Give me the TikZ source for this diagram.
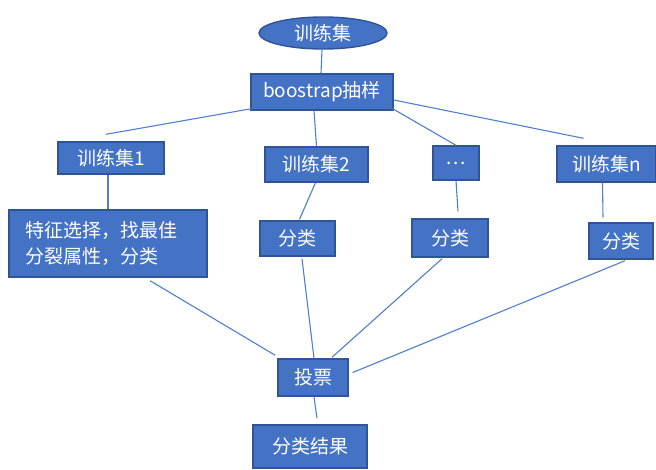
\documentclass[tikz,border=0pt]{standalone}
\usepackage{fontspec}
\setmainfont{Noto Sans CJK SC}
\usetikzlibrary{shapes.geometric}
\definecolor{boxfill}{HTML}{4472C4}
\definecolor{boxedge}{HTML}{2F5597}
\definecolor{linkc}{HTML}{4F7FCF}
\tikzset{
  box/.style={draw=boxedge, line width=1.4pt, fill=boxfill, text=white, inner sep=0pt,
    font=\fontsize{19}{26}\selectfont},
  oval/.style={box, ellipse},
  link/.style={draw=linkc, line width=1.1pt}
}
\begin{document}
\begin{tikzpicture}[x=1pt,y=-1pt]
\useasboundingbox (0,0) rectangle (656,469);
\node[oval, minimum width=128pt, minimum height=32pt] (e) at (323,33) {训练集};
\node[box, minimum width=142pt, minimum height=36pt] (boot) at (322,92) {boostrap抽样};
\node[box, minimum width=106pt, minimum height=32pt] (t1) at (111,158) {训练集1};
\node[box, minimum width=103pt, minimum height=35pt] (t2) at (316.5,164.5) {训练集2};
\node[box, minimum width=46pt, minimum height=34pt] (d) at (456,163) {.\kern1.5pt.\kern1.5pt.};
\node[box, minimum width=99pt, minimum height=36pt] (tn) at (606.5,164) {训练集n};
\node[box, text width=166pt, align=left, inner xsep=16pt, minimum height=67pt] (f) at (108,243.5) {特征选择，找最佳\\分裂属性，分类};
\node[box, minimum width=75pt, minimum height=35pt] (c2) at (297.5,238.5) {分类};
\node[box, minimum width=76pt, minimum height=38pt] (c3) at (450,238) {分类};
\node[box, minimum width=64pt, minimum height=36pt] (c4) at (621,241) {分类};
\node[box, minimum width=70pt, minimum height=37pt] (v) at (313,377.5) {投票};
\node[box, minimum width=114pt, minimum height=43pt] (r) at (310,446.5) {分类结果};

\draw[link] ([xshift=-1pt]e.south) -- ([xshift=-1pt]boot.north);
\draw[link] ([xshift=1pt,yshift=2pt]boot.south west) -- ([xshift=-5pt,yshift=7pt]t1.north);
\draw[link] ([xshift=-8pt]boot.south) -- (t2.north);
\draw[link] ([xshift=-1pt,yshift=2pt]boot.south east) -- (d.north);
\draw[link] ([yshift=-8pt]boot.east) -- ([xshift=-23pt,yshift=7pt]tn.north);
\draw[link] ([xshift=-3pt]t1.south) -- (f.north);
\draw[link] ([xshift=-1pt]t2.south) -- ([xshift=2pt,yshift=1pt]c2.north);
\draw[link] (d.south) -- ([xshift=8pt,yshift=7pt]c3.north);
\draw[link] ([xshift=-4pt]tn.south) -- ([xshift=-18pt,yshift=5pt]c4.north);
\draw[link] ([xshift=42pt,yshift=-3pt]f.south) -- ([xshift=-2pt,yshift=3pt]v.north west);
\draw[link] ([xshift=4.5pt,yshift=-2pt]c2.south) -- ([xshift=1pt]v.north);
\draw[link] ([xshift=-8pt,yshift=-1pt]c3.south) -- ([xshift=19pt,yshift=1pt]v.north);
\draw[link] ([xshift=4pt,yshift=-1pt]c4.south) -- ([xshift=4pt,yshift=5pt]v.east);
\draw[link] ([xshift=1pt]v.south) -- ([xshift=7pt,yshift=6pt]r.north);
\end{tikzpicture}
\end{document}
